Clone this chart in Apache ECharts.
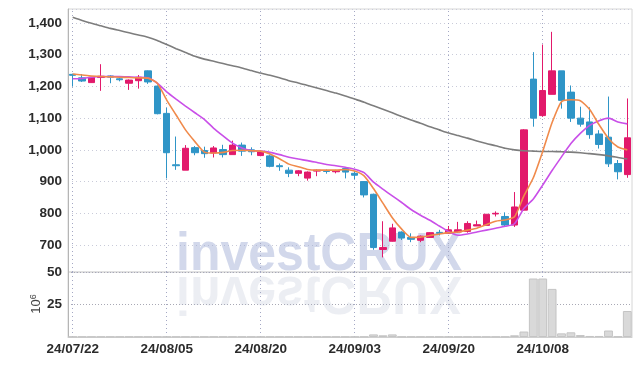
<!DOCTYPE html>
<html><head><meta charset="utf-8">
<script src="https://cdn.jsdelivr.net/npm/echarts@6/dist/echarts.min.js"></script>
<style>html,body{margin:0;padding:0;background:#fff}#c{width:642px;height:366px}</style>
</head><body><div id="c"></div>
<script>
const dates = ['24/07/22','24/07/23','24/07/24','24/07/25','24/07/26','24/07/29','24/07/30','24/07/31','24/08/01','24/08/02',
'24/08/05','24/08/06','24/08/07','24/08/08','24/08/09','24/08/12','24/08/13','24/08/14','24/08/16','24/08/19',
'24/08/20','24/08/21','24/08/22','24/08/23','24/08/26','24/08/27','24/08/28','24/08/29','24/08/30','24/09/02',
'24/09/03','24/09/04','24/09/05','24/09/06','24/09/09','24/09/10','24/09/11','24/09/12','24/09/13','24/09/19',
'24/09/20','24/09/23','24/09/24','24/09/25','24/09/26','24/09/27','24/09/30','24/10/02','24/10/04','24/10/07',
'24/10/08','24/10/10','24/10/11','24/10/14','24/10/15','24/10/16','24/10/17','24/10/18','24/10/21','24/10/22'];

const opens  = [1238,1227,1212,1228,1233,1224,1210,1218,1249,1201, 1115,953,936,1007,998,990,1001,985,1015,1000,
                982,981,950,936,926,911,933,934,931,941, 926,900,860,686,712,741,724,715,724,740,
                737,741,743,760,762,798,790,763,810,1223, 1108,1175,1249,1182,1100,1088,1050,1040,957,922];
const closes = [1235,1217,1229,1232,1229,1221,1220,1229,1214,1114, 991,950,1005,991,988,1006,985,1015,996,994,
                995,948,947,926,934,930,936,932,935,930, 920,858,692,692,754,722,718,728,739,737,
                748,748,768,764,797,800,763,820,1063,1100, 1187,1249,1156,1100,1081,1048,1017,956,931,1038];
const lows   = [1200,1214,1211,1186,1210,1216,1189,1193,1208,1112, 910,937,936,983,975,976,976,985,981,983,
                980,945,934,914,917,903,917,925,926,910, 908,850,685,661,711,716,709,709,723,730,
                737,739,739,760,762,790,758,757,808,1073, 1104,1175,1130,1088,1073,1035,1004,946,907,912];
const highs  = [1240,1239,1230,1270,1235,1229,1222,1236,1250,1203, 1132,1042,1015,1012,1010,1012,1016,1029,1023,1008,
                999,985,957,945,936,932,938,938,937,943, 933,901,862,775,767,743,737,730,740,748,
                760,773,775,777,797,806,803,867,1065,1308, 1332,1372,1249,1203,1136,1134,1062,1168,968,1162];

const ma5    = [1239,1236,1233,1231,1230,1229,1228,1227,1226,1210, 1157,1110,1063,1026,993,990,992,998,999,997,
                996,987,972,955,947,938,936,936,936,938, 933,918,878,832,786,750,724,725,730,735,
                739,741,747,753,764,775,779,789,855,912, 995,1086,1152,1158,1155,1127,1079,1036,1009,1000];
const ma10   = [1224,1225,1229,1231,1231,1231,1230,1229,1227,1210, 1183,1160,1138,1117,1096,1068,1044,1021,1006,998,
                996,992,985,977,971,966,960,954,950,945, 939,928,898,876,855,834,812,794,778,760,
                742,731,735,741,747,753,759,767,815,845, 889,935,978,1020,1052,1077,1092,1100,1088,1082];
const maLong = [1418,1408,1399,1391,1383,1376,1369,1362,1355,1345, 1332,1319,1307,1295,1286,1279,1272,1265,1258,1250,
                1242,1235,1227,1218,1211,1203,1195,1187,1179,1170, 1160,1150,1139,1128,1117,1105,1094,1084,1073,1063,
                1053,1045,1037,1028,1020,1013,1005,1000,997,996, 995,995,994,993,991,988,985,981,976,971];
const volumes = [0.2,0.2,0.2,0.2,0.2,0.2,0.2,0.2,0.2,0.2, 0.2,0.2,0.2,0.2,0.2,0.2,0.2,0.2,0.2,0.2,
                 0.2,0.2,0.2,0.2,0.2,0.2,0.2,0.2,0.2,0.2, 0.2,0.2,2.0,1.3,2.0,0.2,0.2,0.2,0.2,0.2,
                 0.2,0.2,0.2,0.2,0.2,0.2,0.2,1.3,4.2,45, 45,37,2.8,3.6,1.5,0.8,0.8,5.0,0.4,20];
const labelDates = ['24/07/22','24/08/05','24/08/20','24/09/03','24/09/20','24/10/08'];
const labelEvery = 10;
const priceRange = [615, 1444];
const volumeRange = [0, 50];
const volumeUnit = '10';
const volumeExp = '6';
const watermark = 'investCRUX';

const candles = dates.map((d, i) => [opens[i], closes[i], lows[i], highs[i]]);
const UP = '#e2196b', DOWN = '#2f95c7';
const FONT = '"Liberation Sans", Arial, sans-serif';
const LABEL = {color: '#2b2b2b', fontSize: 13.5, fontWeight: 'bold', fontFamily: FONT};
const gridLineStyle = {color: '#c9cbd9', type: [1, 3], width: 1};
const vLines = {
  silent: true, symbol: 'none', animation: false, precision: 0, z: 1,
  label: {show: false},
  lineStyle: {color: '#a4a8c4', type: [1, 3], width: 1},
  data: labelDates.map(d => ({xAxis: d}))
};
const WM_FONT = 'bold 54px "Liberation Sans", Arial, sans-serif';
const WM_AXIS = 273.5;

const chart = echarts.init(document.getElementById('c'), null, {renderer: 'canvas'});
chart.setOption({
  animation: false,
  backgroundColor: '#ffffff',
  grid: [
    {left: 68, right: 10, top: 9, bottom: 94, show: true, borderColor: '#d6d6d6', borderWidth: 1},
    {left: 68, right: 10, top: 272, bottom: 29, show: true, borderColor: '#d6d6d6', borderWidth: 1}
  ],
  xAxis: [
    {type: 'category', data: dates, gridIndex: 0, boundaryGap: true,
     axisLine: {show: false}, axisTick: {show: false}, axisLabel: {show: false}, splitLine: {show: false}},
    {type: 'category', data: dates, gridIndex: 1, boundaryGap: true,
     axisLine: {show: true, lineStyle: {color: '#cfcfcf'}}, axisTick: {show: false},
     axisLabel: Object.assign({interval: labelEvery - 1, margin: 5}, LABEL),
     splitLine: {show: false}}
  ],
  yAxis: [
    {type: 'value', gridIndex: 0, min: priceRange[0], max: priceRange[1], splitNumber: 8, scale: true,
     axisLine: {show: true, lineStyle: {color: '#b5b5b5'}}, axisTick: {show: false},
     axisLabel: Object.assign({margin: 6, showMinLabel: false, showMaxLabel: false,
       formatter: v => v.toLocaleString('en-US')}, LABEL),
     splitLine: {show: true, lineStyle: gridLineStyle}},
    {type: 'value', gridIndex: 1, min: volumeRange[0], max: volumeRange[1], interval: 25,
     axisLine: {show: true, lineStyle: {color: '#b5b5b5'}}, axisTick: {show: false},
     axisLabel: Object.assign({margin: 6, showMinLabel: false}, LABEL),
     splitLine: {show: true, lineStyle: {color: '#a9a9b5', type: [1, 2], width: 1}}}
  ],
  graphic: [
    {type: 'text', x: 176, y: WM_AXIS, scaleX: 0.925, z: 1, silent: true,
     style: {text: watermark, x: 0, y: -18, font: WM_FONT, fill: 'rgba(160,172,212,0.47)', verticalAlign: 'middle'}},
    {type: 'text', x: 176, y: WM_AXIS, scaleX: 0.925, scaleY: -1, z: 1, silent: true,
     style: {text: watermark, x: 0, y: -18, font: WM_FONT, fill: 'rgba(170,176,200,0.22)', verticalAlign: 'middle'}},
    {type: 'text', x: 36, y: 304, rotation: Math.PI / 2, silent: true,
     style: {text: volumeUnit + '{s|' + volumeExp + '}', font: '13px ' + FONT, fill: '#444',
       rich: {s: {fontSize: 9, verticalAlign: 'top', fill: '#444', fontFamily: FONT}}, align: 'center', verticalAlign: 'middle'}}
  ],
  series: [
    {type: 'line', xAxisIndex: 0, yAxisIndex: 0, data: dates.map(() => null), z: 1, symbol: 'none',
     lineStyle: {opacity: 0}, markLine: vLines},
    {type: 'line', xAxisIndex: 1, yAxisIndex: 1, data: dates.map(() => null), z: 1, symbol: 'none',
     lineStyle: {opacity: 0}, markLine: vLines},
    {type: 'candlestick', xAxisIndex: 0, yAxisIndex: 0, data: candles, barWidth: 7, z: 3,
     itemStyle: {color: UP, color0: DOWN, borderColor: UP, borderColor0: DOWN, borderWidth: 1}},
    {type: 'line', xAxisIndex: 0, yAxisIndex: 0, data: maLong, symbol: 'none', smooth: 0.2, z: 4,
     lineStyle: {color: '#7d7d7d', width: 1.6}},
    {type: 'line', xAxisIndex: 0, yAxisIndex: 0, data: ma10, symbol: 'none', smooth: 0.2, z: 4,
     lineStyle: {color: '#c94fe8', width: 1.6}},
    {type: 'line', xAxisIndex: 0, yAxisIndex: 0, data: ma5, symbol: 'none', smooth: 0.2, z: 4,
     lineStyle: {color: '#f08a4b', width: 1.6}},
    {type: 'bar', xAxisIndex: 1, yAxisIndex: 1, data: volumes, barCategoryGap: '6%', z: 3,
     itemStyle: {color: '#d9d9d9', borderColor: '#c4c4c4', borderWidth: 1}}
  ]
});
</script></body></html>
